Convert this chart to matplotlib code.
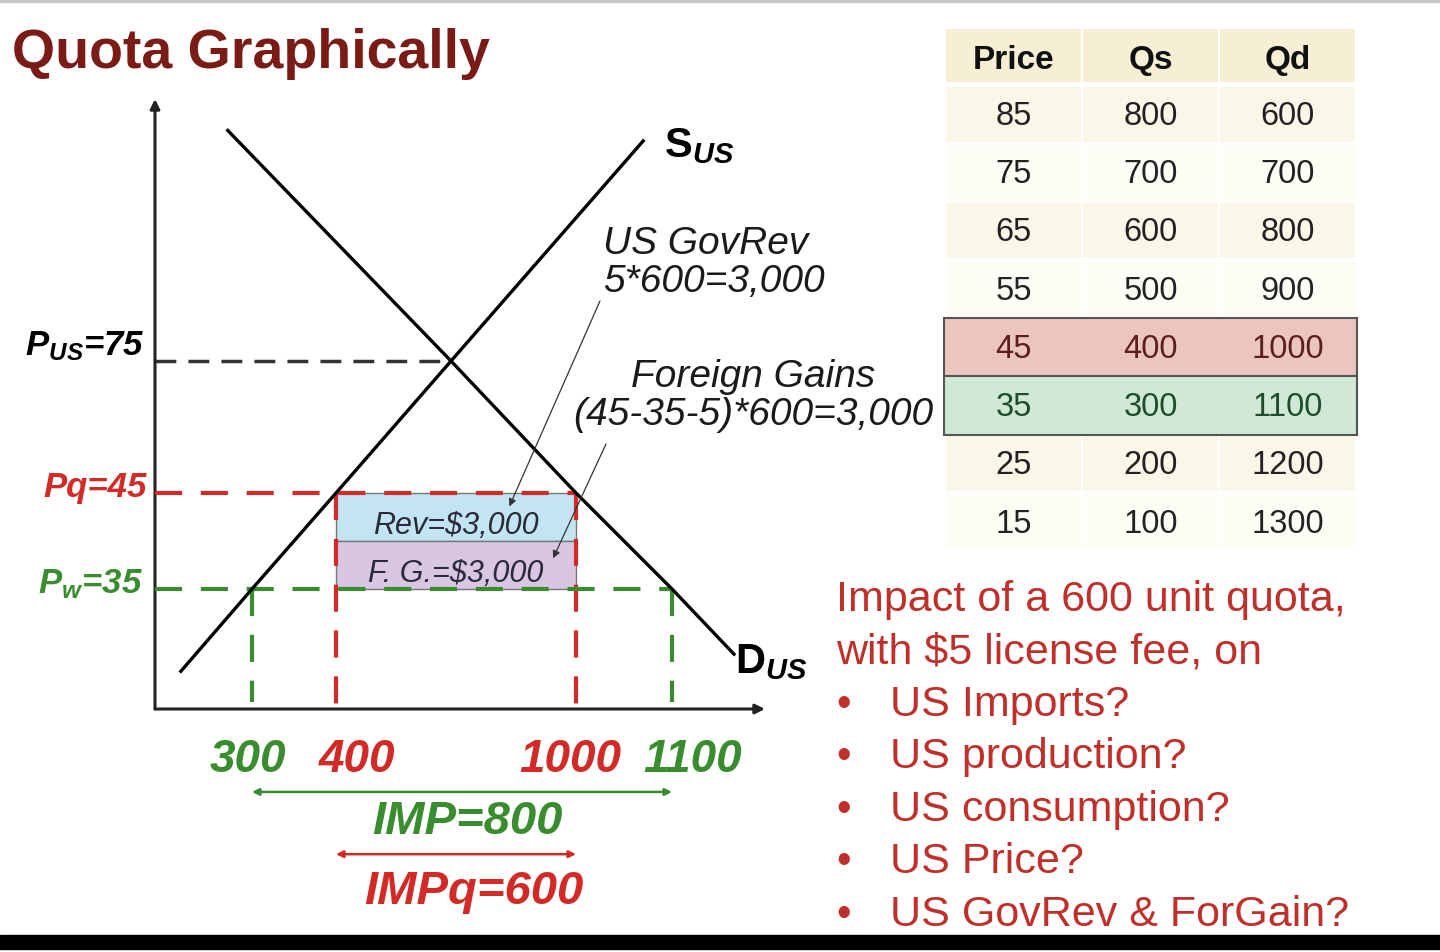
import numpy as np
import matplotlib.pyplot as plt
from matplotlib.patches import Rectangle

plt.rcParams['font.family'] = ['Liberation Sans', 'DejaVu Sans']
plt.rcParams['mathtext.fontset'] = 'custom'
plt.rcParams['mathtext.rm'] = 'Liberation Sans'
plt.rcParams['mathtext.it'] = 'Liberation Sans:italic'
plt.rcParams['mathtext.bf'] = 'Liberation Sans:bold:italic'
plt.rcParams['mathtext.sf'] = 'Liberation Sans:bold'

# Data
prices = [85, 75, 65, 55, 45, 35, 25, 15]
qs = [800, 700, 600, 500, 400, 300, 200, 100]
qd = [600, 700, 800, 900, 1000, 1100, 1200, 1300]
p_world = 35
p_quota = 45
p_us = 75
q_eq = 700
license_fee = 5

# schematic curves (the slide is not drawn to scale)
supply_q = [80, 300, 400, 700, 1070]
supply_p = [11, 35, 45, 75, 96]
demand_q = [225, 700, 1000, 1100, 1300]
demand_p = [97, 75, 45, 35, 16]

bullets = ["US Imports?", "US production?", "US consumption?",
           "US Price?", "US GovRev & ForGain?"]

RED = '#d22b27'
GREEN = '#3a8d2f'
DARKRED = '#7a1b16'
TEXTRED = '#c0302b'

W, H = 1440, 953


def px(x, y):
    return x / W, 1 - y / H


# piecewise scale: the sketch stretches quantities/prices unevenly
Q_KNOTS = [0, 300, 400, 700, 1000, 1100, 1400]
U_KNOTS = [0, 97, 181, 296, 421, 517, 610]
P_KNOTS = [0, 35, 45, 75, 100]
V_KNOTS = [0, 120, 216, 348, 610]


def q_fwd(q):
    return np.interp(q, Q_KNOTS, U_KNOTS)


def q_inv(u):
    return np.interp(u, U_KNOTS, Q_KNOTS)


def p_fwd(p):
    return np.interp(p, P_KNOTS, V_KNOTS)


def p_inv(v):
    return np.interp(v, V_KNOTS, P_KNOTS)


fig = plt.figure(figsize=(14.4, 9.53), dpi=100)
fig.patch.set_facecolor('white')

ax = fig.add_axes([155 / W, 243 / H, 610 / W, 610 / H])
ax.set_xscale('function', functions=(q_fwd, q_inv))
ax.set_yscale('function', functions=(p_fwd, p_inv))
ax.set_xlim(0, 1400)
ax.set_ylim(0, 100)
ax.axis('off')

# axes with arrows
arrow_kw = dict(arrowstyle='-|>', lw=2.2, color='#222222', mutation_scale=14, shrinkA=0, shrinkB=0)
ax.annotate('', xy=(0, 1), xytext=(0, 0), xycoords='axes fraction', arrowprops=arrow_kw)
ax.annotate('', xy=(1, 0), xytext=(0, 0), xycoords='axes fraction', arrowprops=arrow_kw)

# revenue / foreign gains boxes
q_lo, q_hi = qs[prices.index(p_quota)], qd[prices.index(p_quota)]
p_mid = p_quota - license_fee
ax.fill_between([q_lo, q_hi], p_mid, p_quota, color='#c3e4f3', edgecolor='#777777', lw=1, zorder=1)
ax.fill_between([q_lo, q_hi], p_world, p_mid, color='#d8c6e3', edgecolor='#777777', lw=1, zorder=1)
q_center = q_inv((q_fwd(q_lo) + q_fwd(q_hi)) / 2)
ax.text(q_center, (p_mid + p_quota) / 2 - 0.8, r'Rev=\$3,000', ha='center', va='center',
        fontsize=22, style='italic', color='#2a2a38', zorder=5)
ax.text(q_center, (p_world + p_mid) / 2 - 0.8, r'F. G.=\$3,000', ha='center', va='center',
        fontsize=22, style='italic', color='#2a2a38', zorder=5)

# dashed guides
ax.plot([0, q_eq], [p_us, p_us], color='#333333', lw=2.5, dashes=(6, 3.5), zorder=2)
ax.plot([0, q_hi], [p_quota, p_quota], color=RED, lw=3, dashes=(6.5, 4.5), zorder=3)
for q in (q_lo, q_hi):
    ax.plot([q, q], [p_quota, 0], color=RED, lw=3, dashes=(6.5, 4.5), zorder=3)
q_w_lo, q_w_hi = qs[prices.index(p_world)], qd[prices.index(p_world)]
ax.plot([0, q_w_hi], [p_world, p_world], color=GREEN, lw=3, dashes=(6.5, 4.5), zorder=3)
for q in (q_w_lo, q_w_hi):
    ax.plot([q, q], [p_world, 2], color=GREEN, lw=3, dashes=(6.5, 4.5), zorder=3)

# supply and demand
ax.plot(supply_q, supply_p, color='black', lw=2.4, zorder=4)
ax.plot(demand_q, demand_p, color='black', lw=2.4, zorder=4)

# leader arrows
lead_kw = dict(arrowstyle='-|>', lw=0.9, color='#333333', mutation_scale=11, shrinkA=0, shrinkB=0)
ax.annotate('', xy=(840, 43.6), xycoords='data', xytext=px(600, 302),
            textcoords='figure fraction', arrowprops=lead_kw, zorder=6)
ax.annotate('', xy=(945, 38.2), xycoords='data', xytext=px(606, 445),
            textcoords='figure fraction', arrowprops=lead_kw, zorder=6)

# price labels on the y axis
lab_kw = dict(xycoords=('axes fraction', 'data'), textcoords='offset pixels', ha='right',
              va='center', fontsize=25, fontweight='bold', style='italic')
ax.annotate(r'$\mathbf{P_{US}}$=%d' % p_us, xy=(0, p_us), xytext=(-10, 16), color='black', **lab_kw)
ax.annotate('Pq=%d' % p_quota, xy=(0, p_quota), xytext=(-8, 6), color=RED, **lab_kw)
ax.annotate(r'$\mathbf{P_{w}}$=%d' % p_world, xy=(0, p_world), xytext=(-12, 6), color=GREEN, **lab_kw)

# quantity labels below the x axis
for q, dx, c in [(q_w_lo, -4, GREEN), (q_lo, 21, RED), (q_hi, -6, RED), (q_w_hi, 21, GREEN)]:
    ax.annotate(str(q), xy=(q, 0), xycoords='data', xytext=(dx, -50), textcoords='offset pixels',
                ha='center', va='center', fontsize=33, fontweight='bold', style='italic', color=c)

# import arrows
ax.annotate('', xy=(q_w_hi, -0.136), xytext=(q_w_lo, -0.136), xycoords=('data', 'axes fraction'),
            arrowprops=dict(arrowstyle='<|-|>', lw=1.8, color=GREEN, mutation_scale=10, shrinkA=0, shrinkB=0))
ax.annotate('', xy=(q_hi, -0.238), xytext=(q_lo, -0.238), xycoords=('data', 'axes fraction'),
            arrowprops=dict(arrowstyle='<|-|>', lw=1.8, color=RED, mutation_scale=10, shrinkA=0, shrinkB=0))
fig.text(*px(467, 822), 'IMP=%d' % (q_w_hi - q_w_lo), ha='center', va='center', fontsize=34,
         fontweight='bold', style='italic', color=GREEN)
fig.text(*px(474, 892), 'IMPq=%d' % (q_hi - q_lo), ha='center', va='center', fontsize=34,
         fontweight='bold', style='italic', color=RED)

# curve labels
fig.text(*px(664, 146), r'$\mathsf{S}_{\mathbf{US}}$', ha='left', va='center', fontsize=30)
fig.text(*px(735, 662), r'$\mathsf{D}_{\mathbf{US}}$', ha='left', va='center', fontsize=30)

# explanatory notes
fig.text(*px(603, 263), 'US GovRev\n5*600=3,000', ha='left', va='center', fontsize=28,
         style='italic', color='#1a1a1a', linespacing=1.1)
fig.text(*px(753, 396), 'Foreign Gains\n(45-35-5)*600=3,000', ha='center', va='center', fontsize=28,
         style='italic', color='#1a1a1a', linespacing=1.1)

# title
fig.text(*px(12, 54), 'Quota Graphically', ha='left', va='center', fontsize=40,
         fontweight='bold', color=DARKRED)

# table
tax = fig.add_axes([945 / W, 1 - 552 / H, 411 / W, 524 / H])
tax.set_xlim(0, 3)
tax.set_ylim(9, 0)
tax.axis('off')
header = ['Price', 'Qs', 'Qd']
for j, h in enumerate(header):
    tax.add_patch(Rectangle((j + 0.01, 0.04), 0.98, 0.9, color='#f6efd3', lw=0))
    tax.text(j + 0.5, 0.55, h, ha='center', va='center', fontsize=24, fontweight='bold', color='#111111')
for i, row in enumerate(zip(prices, qs, qd), start=1):
    txt_color = '#222222'
    if row[0] == p_quota:
        tax.add_patch(Rectangle((-0.01, i), 3.02, 1, facecolor='#ebc5be', edgecolor='#555555', lw=1.5,
                                clip_on=False, zorder=2))
        txt_color = '#5b1f1f'
    elif row[0] == p_world:
        tax.add_patch(Rectangle((-0.01, i), 3.02, 1, facecolor='#cfe9d6', edgecolor='#555555', lw=1.5,
                                clip_on=False, zorder=2))
        txt_color = '#1f4d2c'
    else:
        bg = '#fbf7e8' if i % 2 == 1 else '#fdfcf5'
        for j in range(3):
            tax.add_patch(Rectangle((j + 0.01, i + 0.03), 0.98, 0.94, color=bg, lw=0))
    for j, v in enumerate(row):
        tax.text(j + 0.5, i + 0.52, str(v), ha='center', va='center', fontsize=23.5,
                 color=txt_color, zorder=3)

# question list
fig.text(*px(836, 600), 'Impact of a 600 unit quota,', ha='left', va='center', fontsize=31, color=TEXTRED)
fig.text(*px(836, 653), r'with \$5 license fee, on', ha='left', va='center', fontsize=31, color=TEXTRED)
for k, b in enumerate(bullets):
    y = 705 + k * 52.5
    fig.text(*px(844, y), '\u2022', ha='center', va='center', fontsize=30, color=TEXTRED)
    fig.text(*px(890, y), b, ha='left', va='center', fontsize=31, color=TEXTRED)

# slide frame
fig.patches.append(Rectangle((0, 1 - 3 / H), 1, 3 / H, transform=fig.transFigure, color='#c8c8c8'))
fig.patches.append(Rectangle((0, 1 - 950 / H), 1, 14 / H, transform=fig.transFigure, color='black'))

fig.savefig('out.png', dpi=100)
